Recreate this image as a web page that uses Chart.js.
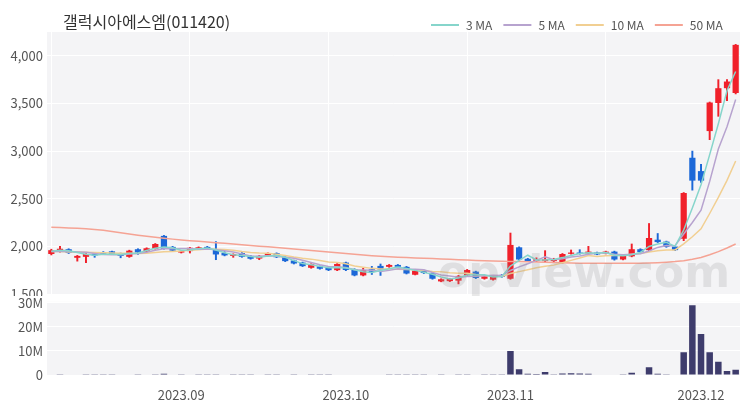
<!DOCTYPE html>
<html>
<head>
<meta charset="utf-8">
<script src="https://cdn.jsdelivr.net/npm/chart.js@4.4.0/dist/chart.umd.min.js"></script>
<style>
  body { margin: 0; background: #fff; }
  #wrap { position: relative; width: 750px; height: 400px; }
  #priceChart { position: absolute; left: 0; top: 0; }
  #volChart { position: absolute; left: 0; top: 290px; }
</style>
</head>
<body>
<div id="wrap">
  <canvas id="priceChart" width="750" height="310"></canvas>
  <canvas id="volChart" width="750" height="110"></canvas>
</div>
<script>
const title = '갤럭시아에스엠(011420)';

const dates = [
  '2023.08.10','2023.08.11','2023.08.14','2023.08.16','2023.08.17','2023.08.18','2023.08.21','2023.08.22',
  '2023.08.23','2023.08.24','2023.08.25','2023.08.28','2023.08.29','2023.08.30','2023.08.31',
  '2023.09.01','2023.09.04','2023.09.05','2023.09.06','2023.09.07','2023.09.08','2023.09.11','2023.09.12',
  '2023.09.13','2023.09.14','2023.09.15','2023.09.18','2023.09.19','2023.09.20','2023.09.21','2023.09.22',
  '2023.09.25','2023.09.26','2023.09.27',
  '2023.10.04','2023.10.05','2023.10.06','2023.10.10','2023.10.11','2023.10.12','2023.10.13','2023.10.16',
  '2023.10.17','2023.10.18','2023.10.19','2023.10.20','2023.10.23','2023.10.24','2023.10.25','2023.10.26',
  '2023.10.27','2023.10.30','2023.10.31',
  '2023.11.01','2023.11.02','2023.11.03','2023.11.06','2023.11.07','2023.11.08','2023.11.09','2023.11.10',
  '2023.11.13','2023.11.14','2023.11.15','2023.11.16','2023.11.17','2023.11.20','2023.11.21','2023.11.22',
  '2023.11.23','2023.11.24','2023.11.27','2023.11.28','2023.11.29','2023.11.30',
  '2023.12.01','2023.12.04','2023.12.05','2023.12.06','2023.12.07'
];

const opens = [
  1920,1950,1970,1880,1890,1920,1935,1948,1925,1890,1970,1945,1975,2110,1995,
  1935,1950,1975,1995,1965,1930,1900,1930,1900,1872,1905,1928,1888,1852,1830,1775,1790,1778,1750,
  1830,1760,1695,1760,1795,1785,1805,1785,1702,1745,1720,1632,1635,1640,1695,1735,1660,1650,1700,
  1660,1990,1870,1845,1845,1845,1830,1922,1935,1925,1935,1925,1945,1862,1895,1970,1960,2070,2050,1998,2080,2930,
  2790,3210,3505,3660,3610
];
const highs = [
  1970,2000,1975,1905,1925,1925,1945,1950,1930,1960,1975,1985,2030,2115,2000,
  1955,1990,1995,2000,2050,1945,1922,1935,1905,1905,1932,1932,1892,1856,1835,1818,1795,1782,1820,
  1835,1765,1770,1790,1815,1810,1810,1790,1750,1750,1725,1660,1665,1695,1758,1740,1690,1690,1705,
  2140,1995,1875,1880,1955,1875,1925,1962,1965,2000,1940,1950,1950,1905,2025,1975,2240,2135,2055,2000,2565,3000,
  2860,3515,3750,3750,4120
];
const lows = [
  1910,1940,1925,1845,1830,1885,1915,1915,1880,1885,1915,1940,1970,1970,1950,
  1930,1930,1970,1970,1860,1900,1885,1885,1865,1860,1900,1882,1840,1815,1788,1770,1760,1745,1745,
  1745,1690,1690,1705,1695,1780,1780,1710,1700,1715,1655,1628,1630,1606,1690,1662,1655,1645,1675,
  1655,1858,1840,1840,1830,1840,1825,1918,1918,1920,1912,1920,1855,1858,1890,1935,1955,2040,1990,1955,2060,2590,
  2670,3120,3365,3530,3600
];
const closes = [
  1960,1975,1930,1900,1920,1905,1922,1920,1900,1955,1935,1980,2025,1975,1955,
  1950,1985,1990,1978,1915,1905,1918,1890,1870,1900,1928,1886,1845,1820,1792,1812,1765,1750,1815,
  1752,1695,1752,1732,1756,1805,1785,1715,1745,1720,1660,1655,1658,1690,1752,1668,1685,1685,1680,
  2015,1862,1845,1865,1865,1860,1920,1935,1922,1945,1915,1945,1862,1900,1970,1940,2088,2045,1995,1960,2560,2690,
  2690,3510,3660,3730,4115
];

const ma3 = [
  1950,1958,1955,1935,1917,1908,1916,1916,1914,1925,1930,1957,1980,1993,1985,
  1960,1963,1975,1984,1961,1933,1913,1904,1893,1887,1899,1905,1886,1850,1819,1808,1790,1776,1777,
  1772,1754,1733,1726,1747,1764,1782,1768,1748,1727,1708,1678,1658,1668,1700,1703,1702,1679,1683,
  1793,1852,1907,1857,1858,1863,1882,1905,1926,1934,1927,1935,1907,1902,1911,1937,1999,2024,2043,2000,2172,2403,
  2647,2963,3287,3633,3835
];
const ma5 = [
  1945,1948,1945,1940,1937,1926,1915,1913,1913,1920,1926,1938,1959,1974,1974,
  1977,1978,1971,1972,1964,1955,1941,1921,1900,1897,1901,1895,1886,1876,1854,1831,1807,1788,1787,
  1779,1755,1753,1749,1737,1748,1766,1759,1761,1754,1725,1699,1688,1677,1683,1685,1691,1696,1694,
  1747,1785,1817,1853,1890,1859,1871,1889,1900,1916,1927,1932,1918,1913,1918,1923,1952,1989,2008,2006,2130,2250,
  2379,2682,3022,3256,3541
];
const ma10 = [
  1945,1945,1942,1940,1938,1935,1933,1931,1929,1929,1926,1927,1936,1944,1947,
  1952,1958,1965,1973,1969,1966,1960,1946,1936,1930,1928,1918,1904,1888,1875,1866,1851,1837,1831,
  1817,1793,1780,1769,1762,1763,1761,1756,1755,1746,1737,1733,1723,1719,1719,1705,1695,1692,1685,
  1715,1735,1754,1775,1792,1803,1828,1853,1877,1903,1893,1902,1903,1907,1917,1925,1942,1953,1961,1962,2027,2101,
  2184,2345,2514,2693,2896
];
const ma50 = [
  2200,2197,2194,2190,2185,2178,2168,2155,2142,2130,2117,2105,2095,2085,2076,
  2068,2060,2053,2046,2039,2032,2024,2017,2010,2002,1995,1988,1980,1972,1964,1956,1948,1940,1932,
  1925,1918,1910,1902,1895,1890,1886,1882,1879,1876,1872,1868,1864,1860,1856,1852,1849,1846,1844,
  1842,1840,1838,1835,1832,1830,1827,1825,1824,1823,1822,1822,1822,1822,1823,1824,1825,1828,1833,1840,1850,1865,
  1884,1912,1945,1983,2025
];

// volume, millions of shares
const volumes = [
  0.2,0.15,0.2,0.25,0.3,0.15,0.1,0.15,0.2,0.2,0.15,0.2,0.3,0.5,0.2,
  0.15,0.2,0.15,0.1,0.3,0.2,0.1,0.15,0.15,0.2,0.15,0.15,0.2,0.15,0.2,0.15,0.1,0.15,0.2,
  0.2,0.25,0.2,0.2,0.25,0.15,0.1,0.15,0.15,0.1,0.2,0.15,0.2,0.3,0.3,0.2,0.15,0.15,0.1,
  10,2.4,0.5,0.4,1.2,0.3,0.6,0.7,0.6,0.5,0.2,0.2,0.2,0.3,0.9,0.2,3.2,0.5,0.3,0.2,9.5,29,
  17,9.5,5.5,1.7,2.2
];

const priceTicks = [1500, 2000, 2500, 3000, 3500, 4000];
const volumeTicks = [0, 10, 20, 30];

const maNames = ['3 MA', '5 MA', '10 MA', '50 MA'];
const maColors = ['#86d5cb', '#b7a3cf', '#f1cf92', '#f5a394'];

const UP = '#f0202a';
const DOWN = '#1c68d8';
const candleColors = closes.map((c, i) => c >= opens[i] ? UP : DOWN);

const FONT = '"Noto Sans CJK KR", "Noto Sans", sans-serif';

function isMonthStart(i) {
  return i > 0 && dates[i].slice(0, 7) !== dates[i - 1].slice(0, 7);
}
function gridX(ctx) {
  return ctx.index % 16 === 0 ? '#ffffff' : 'rgba(0,0,0,0)';
}

const areaBg = {
  id: 'areaBg',
  beforeDraw(chart, args, opts) {
    const { ctx, chartArea: { left, top, width, height } } = chart;
    ctx.save();
    if (opts.whiteFrom !== undefined) {
      ctx.fillStyle = '#ffffff';
      ctx.fillRect(0, opts.whiteFrom, chart.width, chart.height - opts.whiteFrom);
    }
    ctx.fillStyle = '#f4f4f6';
    ctx.fillRect(left, top, width, height);
    ctx.restore();
  }
};

const header = {
  id: 'header',
  afterDraw(chart) {
    const { ctx, chartArea } = chart;
    ctx.save();
    // watermark
    ctx.font = 'bold 44px "DejaVu Sans", sans-serif';
    ctx.fillStyle = 'rgba(150,150,150,0.22)';
    ctx.textAlign = 'right';
    ctx.textBaseline = 'alphabetic';
    ctx.fillText('opview.com', chartArea.right - 10, 287);

    // title
    ctx.font = '16px ' + FONT;
    ctx.fillStyle = '#333';
    ctx.textAlign = 'left';
    ctx.textBaseline = 'middle';
    ctx.fillText(title, 63, 22);

    // legend
    ctx.font = '12px ' + FONT;
    let x = 431;
    maNames.forEach((name, i) => {
      ctx.strokeStyle = maColors[i];
      ctx.lineWidth = 2;
      ctx.beginPath();
      ctx.moveTo(x, 25);
      ctx.lineTo(x + 28, 25);
      ctx.stroke();
      x += 35;
      ctx.fillStyle = '#555';
      ctx.fillText(name, x, 25);
      x += ctx.measureText(name).width + 11;
    });
    ctx.restore();
  }
};

const maSets = [ma3, ma5, ma10, ma50].map((d, i) => ({
  type: 'line',
  label: maNames[i],
  data: d,
  borderColor: maColors[i],
  backgroundColor: maColors[i],
  borderWidth: 1.5,
  pointRadius: 0,
  tension: 0,
  order: 0
}));

new Chart(document.getElementById('priceChart'), {
  type: 'bar',
  data: {
    labels: dates,
    datasets: [
      ...maSets,
      {
        label: 'body',
        data: opens.map((o, i) => [o, closes[i]]),
        backgroundColor: candleColors,
        barPercentage: 0.72,
        categoryPercentage: 1,
        grouped: false,
        order: 1
      },
      {
        label: 'wick',
        data: lows.map((l, i) => [l, highs[i]]),
        backgroundColor: candleColors,
        barThickness: 1.3,
        grouped: false,
        order: 2
      }
    ]
  },
  options: {
    responsive: false,
    animation: false,
    layout: { padding: { top: 32, right: 10, bottom: 16, left: 0 } },
    plugins: { legend: { display: false }, tooltip: { enabled: false } },
    scales: {
      x: {
        offset: true,
        grid: { color: gridX, drawTicks: false, offset: false },
        border: { display: false },
        ticks: { display: false, autoSkip: false },
        afterFit: s => { s.height = 0; }
      },
      y: {
        min: 1500,
        max: 4250,
        grid: { color: '#ffffff', drawTicks: false },
        border: { display: false },
        afterBuildTicks: s => { s.ticks = priceTicks.map(v => ({ value: v })); },
        ticks: {
          autoSkip: false,
          padding: 4,
          color: '#555',
          font: { family: FONT, size: 13 },
          callback: v => v.toLocaleString('en-US')
        },
        afterFit: s => { s.width = 47; }
      }
    }
  },
  plugins: [areaBg, header]
});

new Chart(document.getElementById('volChart'), {
  type: 'bar',
  data: {
    labels: dates,
    datasets: [{
      label: 'volume',
      data: volumes,
      backgroundColor: '#3e3c6c',
      barPercentage: 0.75,
      categoryPercentage: 1
    }]
  },
  options: {
    responsive: false,
    animation: false,
    layout: { padding: { top: 3, right: 10, bottom: 0, left: 0 } },
    plugins: { legend: { display: false }, tooltip: { enabled: false }, areaBg: { whiteFrom: 6 } },
    scales: {
      x: {
        offset: true,
        grid: { display: false },
        border: { display: false },
        ticks: {
          autoSkip: false,
          maxRotation: 0,
          padding: 4,
          color: '#555',
          font: { family: FONT, size: 13 },
          callback: (v, i) => isMonthStart(i) ? dates[i].slice(0, 7) : null
        },
        afterFit: s => { s.height = 25; }
      },
      y: {
        min: 0,
        max: 30.4,
        grid: { color: '#ffffff', drawTicks: false },
        border: { display: false },
        afterBuildTicks: s => { s.ticks = volumeTicks.map(v => ({ value: v })); },
        ticks: {
          autoSkip: false,
          padding: 4,
          color: '#555',
          font: { family: FONT, size: 13 },
          callback: v => v === 0 ? '0' : v + 'M'
        },
        afterFit: s => { s.width = 47; }
      }
    }
  },
  plugins: [areaBg]
});
</script>
</body>
</html>
